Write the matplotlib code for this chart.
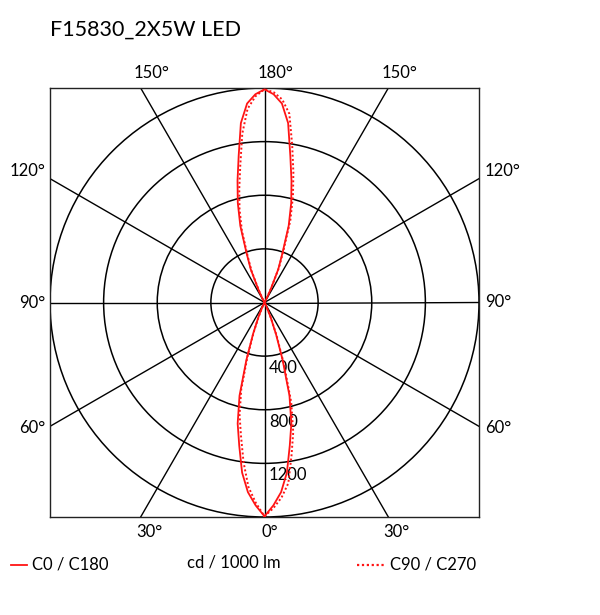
import numpy as np
import matplotlib
matplotlib.use('Agg')
import matplotlib.pyplot as plt
from matplotlib.lines import Line2D
from matplotlib.patches import Circle

plt.rcParams['font.family'] = ['Lato', 'DejaVu Sans']

title = 'F15830_2X5W LED'
unit_label = 'cd / 1000 lm'
legend_labels = ['C0 / C180', 'C90 / C270']

# intensity (cd/klm) vs angle from the lamp axis, for the downward and upward halves
gamma = [0, 2.5, 5, 7.5, 10, 12.5, 15, 17.5, 20, 22.5, 25, 27.5, 30, 40, 50, 60, 70, 80, 90]
c0_down = [1595, 1515, 1420, 1280, 1085, 925, 720, 450, 250, 120, 40, 12, 3, 1, 0, 0, 0, 0, 0]
c0_up = [1590, 1555, 1490, 1350, 1110, 930, 770, 600, 390, 268, 110, 35, 10, 2, 0, 0, 0, 0, 0]
c90_down = [1595, 1535, 1460, 1360, 1160, 990, 770, 480, 265, 128, 43, 13, 3, 1, 0, 0, 0, 0, 0]
c90_up = [1590, 1570, 1520, 1420, 1190, 995, 820, 640, 415, 285, 118, 37, 10, 2, 0, 0, 0, 0, 0]
c270_down = [1595, 1495, 1380, 1200, 1010, 860, 670, 420, 235, 112, 37, 11, 3, 1, 0, 0, 0, 0, 0]
c270_up = [1590, 1540, 1450, 1270, 1040, 870, 720, 560, 365, 250, 102, 33, 9, 2, 0, 0, 0, 0, 0]

rings = [400, 800, 1200, 1600]
ring_labels = ['400', '800', '1200']
spoke_angles = [0, 30, 60, 90, 120, 150, 180, 210, 240, 270, 300, 330]
spoke_labels = ['0°', '30°', '60°', '90°', '120°', '150°', '180°',
                '150°', '120°', '90°', '60°', '30°']
rmax = 1600
red = '#ff1414'


def lobe(right_down, right_up, left_down, left_up):
    # closed outline: right side from nadir to zenith, left side back again
    g = np.radians(gamma)
    rd, ru = np.array(right_down, float), np.array(right_up, float)
    ld, lu = np.array(left_down, float), np.array(left_up, float)
    x = np.concatenate([rd * np.sin(g), (ru * np.sin(g))[::-1],
                        -lu * np.sin(g), (-ld * np.sin(g))[::-1]])
    y = np.concatenate([-rd * np.cos(g), (ru * np.cos(g))[::-1],
                        lu * np.cos(g), (-ld * np.cos(g))[::-1]])
    return x, y


fig = plt.figure(figsize=(6, 6.15), dpi=100)
ax = fig.add_axes([50 / 600, (615 - 517) / 615, 429 / 600, 429 / 615])
ax.set_xlim(-rmax, rmax)
ax.set_ylim(-rmax, rmax)
ax.set_aspect('equal')
ax.set_xticks([])
ax.set_yticks([])
for s in ax.spines.values():
    s.set_linewidth(1.0)
    s.set_color('#222222')

# grid circles
for r in rings:
    ax.add_patch(Circle((0, 0), r, fill=False, ec='black', lw=1.1))

# spokes and angle labels
px = 0.72  # points per pixel at dpi 100
for a, lab in zip(spoke_angles, spoke_labels):
    t = np.radians(a)
    dx, dy = -np.sin(t), -np.cos(t)
    L = rmax / max(abs(dx), abs(dy))
    ex, ey = dx * L, dy * L
    ax.plot([0, ex], [0, ey], color='black', lw=1.0)
    if abs(dy) >= abs(dx) - 1e-9:
        off_y = (14.7 if ey > 0 else -14.7) * px
        ax.annotate(lab, (ex, ey), xytext=(2.8 * len(lab) * px, off_y), textcoords='offset points',
                    ha='center', va='center', fontsize=12, annotation_clip=False)
    else:
        nudge = {120: 8, 240: 8, 60: -2, 300: -2}.get(a, 0) * px
        if ex < 0:
            ax.annotate(lab, (ex, ey), xytext=(-5 * px, nudge), textcoords='offset points',
                        ha='right', va='center', fontsize=12, annotation_clip=False)
        else:
            ax.annotate(lab, (ex, ey), xytext=(6 * px, nudge), textcoords='offset points',
                        ha='left', va='center', fontsize=12, annotation_clip=False)

for r, lab in zip(rings, ring_labels):
    ax.annotate(lab, (0, -r), xytext=(4.5 * px, -4 * px), textcoords='offset points',
                ha='left', va='top', fontsize=12)

x0, y0 = lobe(c0_down, c0_up, c0_down, c0_up)
x9, y9 = lobe(c90_down, c90_up, c270_down, c270_up)
ax.plot(x0, y0, color=red, lw=1.3, zorder=5)
ax.plot(x9, y9, color=red, lw=1.4, linestyle=(0, (1, 1.2)), zorder=6)

# title and footer
fig.text(50 / 600, 1 - 30 / 615, title, fontsize=15.5, ha='left', va='center')
fig.text(233.5 / 600, 1 - 563 / 615, unit_label, fontsize=12, ha='center', va='center')
fig.add_artist(Line2D([10.7 / 600, 27.3 / 600], [1 - 565 / 615] * 2, color=red, lw=1.3))
fig.text(32 / 600, 1 - 564 / 615, legend_labels[0], fontsize=12, ha='left', va='center')
fig.add_artist(Line2D([357 / 600, 386 / 600], [1 - 565 / 615] * 2, color=red, lw=1.6,
                      linestyle=(0, (1, 1.2))))
fig.text(390.5 / 600, 1 - 564 / 615, legend_labels[1], fontsize=12, ha='left', va='center')

fig.savefig('out.png', dpi=100)
